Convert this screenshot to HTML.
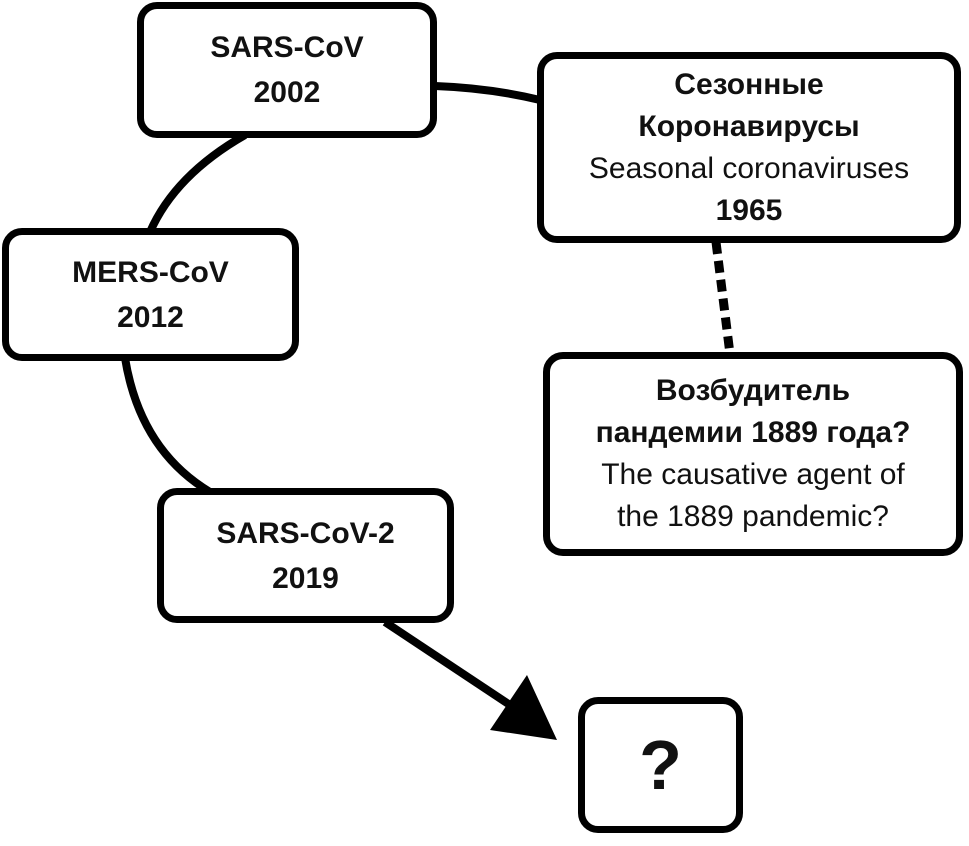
<!DOCTYPE html>
<html><head><meta charset="utf-8"><style>
html,body{margin:0;padding:0;background:#fff}
body{width:969px;height:846px;position:relative;overflow:hidden;font-family:"Liberation Sans",sans-serif}
.b{position:absolute;box-sizing:border-box;border:7px solid #000;border-radius:20px;background:#fff;display:flex;flex-direction:column;justify-content:center;align-items:center;text-align:center;color:#111;font-size:30px;line-height:42px}
b{font-weight:bold}
</style></head><body>
<svg width="969" height="846" style="position:absolute;left:0;top:0">
<g fill="none" stroke="#000" stroke-width="8">
<path d="M245 135 Q175 175 150 232"/>
<path d="M125 358 Q140 450 210 492"/>
<path d="M435 86 Q490 88 540 100"/>
<path d="M716 242 L730 354" stroke-dasharray="12 7" stroke-width="9"/>
<path d="M385 622 L510 705"/>
</g>
<polygon points="490,730 527,675 557,740" fill="#000"/>
</svg>
<div class="b" style="left:137px;top:2px;width:300px;height:136px;line-height:45px"><b>SARS-CoV</b><b>2002</b></div>
<div class="b" style="left:537px;top:52px;width:424px;height:191px"><b>Сезонные</b><b>Коронавирусы</b><span>Seasonal coronaviruses</span><b>1965</b></div>
<div class="b" style="left:2px;top:228px;width:297px;height:133px;line-height:45px"><b>MERS-CoV</b><b>2012</b></div>
<div class="b" style="left:543px;top:352px;width:420px;height:204px"><b>Возбудитель</b><b>пандемии 1889 года?</b><span>The causative agent of</span><span>the 1889 pandemic?</span></div>
<div class="b" style="left:157px;top:488px;width:297px;height:135px;line-height:45px"><b>SARS-CoV-2</b><b>2019</b></div>
<div class="b" style="left:578px;top:697px;width:165px;height:136px;font-size:70px;line-height:80px"><b>?</b></div>
</body></html>
